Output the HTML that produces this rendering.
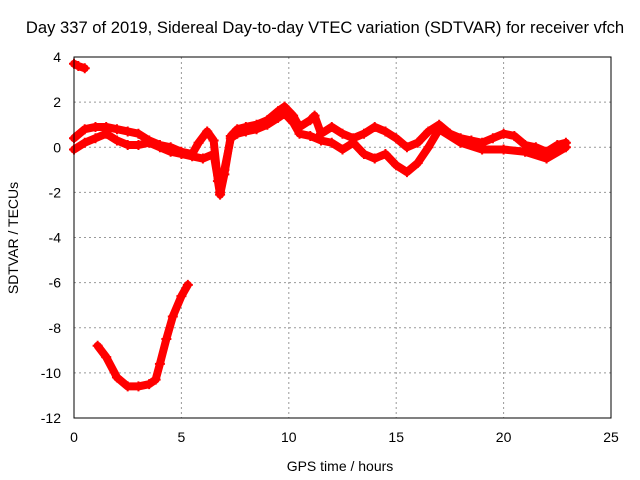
<!DOCTYPE html>
<html><head><meta charset="utf-8"><style>
body{margin:0;background:#fff}
svg{display:block;font-family:"Liberation Sans",sans-serif}
</style></head><body>
<svg id="c" width="640" height="480">
<text x="325" y="33" font-size="16.6" text-anchor="middle">Day 337 of 2019, Sidereal Day-to-day VTEC variation (SDTVAR) for receiver vfch</text>
<text x="340" y="471" font-size="14" text-anchor="middle">GPS time / hours</text>
<text x="18" y="238" font-size="14" text-anchor="middle" transform="rotate(-90 18 238)">SDTVAR / TECUs</text>
<g id="grid"></g><g id="marks"></g>
<rect x="74" y="57" width="537" height="361" fill="none" stroke="#000"/>
</svg>
<script>
const xTicks=[0,5,10,15,20,25];
const yTicks=[4,2,0,-2,-4,-6,-8,-10,-12];
const upperT=[0,0.5,1,1.5,2,2.5,3,3.5,4,4.5,5,5.5,5.8,6.2,6.5,6.7,6.8,7.0,7.3,7.6,8,8.5,9,9.5,9.8,10.2,10.5,11,11.2,11.5,12,12.5,13,13.5,14,14.5,15,15.5,16,16.5,17,17.5,18,18.5,19,19.5,20,20.5,21,21.5,22,22.5,22.9];
const upperV=[0.4,0.8,0.9,0.9,0.8,0.7,0.6,0.3,0.1,0,-0.2,-0.3,0.2,0.7,0.3,-1.5,-2.1,-1.2,0.5,0.8,0.9,1.0,1.2,1.6,1.8,1.4,0.9,1.2,1.4,0.6,0.9,0.6,0.4,0.6,0.9,0.7,0.4,0,0.2,0.7,1.0,0.6,0.4,0.3,0.2,0.4,0.6,0.5,0.1,0,-0.2,0.1,0.2];
const lowerT=[0,0.5,1,1.5,2,2.5,3,3.5,4,4.5,5,5.5,6,6.5,6.8,7.0,7.3,7.6,8,8.5,9,9.5,9.8,10.2,10.5,11,11.5,12,12.5,13,13.5,14,14.5,15,15.5,16,16.5,17,18,19,20,21,22,22.9];
const lowerV=[-0.1,0.2,0.4,0.6,0.3,0.1,0.1,0.2,0,-0.2,-0.3,-0.4,-0.5,-0.3,-2.0,-1.0,0.4,0.6,0.7,0.8,1.0,1.3,1.5,1.1,0.6,0.5,0.3,0.2,-0.1,0.2,-0.3,-0.5,-0.3,-0.8,-1.1,-0.7,0,0.8,0.2,-0.1,-0.1,-0.2,-0.5,0.0];
const arcT=[1.1,1.5,2,2.5,3,3.5,3.8,4,4.3,4.6,5,5.3];
const arcV=[-8.8,-9.3,-10.2,-10.6,-10.6,-10.5,-10.3,-9.6,-8.5,-7.5,-6.6,-6.1];
const topT=[0,0.2,0.5];
const topV=[3.7,3.6,3.5];
const X=t=>74+t*(537/25), Y=v=>57+(4-v)*(361/16);
const NS='http://www.w3.org/2000/svg';
const g=document.getElementById('grid'), m=document.getElementById('marks');
function mk(tag,a,p){const e=document.createElementNS(NS,tag);for(const k in a)e.setAttribute(k,a[k]);p.appendChild(e);return e;}
xTicks.forEach(t=>{const x=X(t);
 if(t>0&&t<25){const l=mk('line',{x1:x,x2:x,y1:57,y2:418,stroke:'#999','stroke-dasharray':'2,3'},g);
 
 }
 const tl=mk('text',{x:x,y:442,'font-size':14,'text-anchor':'middle'},g);tl.textContent=t;
 
 
});
yTicks.forEach(v=>{const y=Y(v);
 if(v<4&&v>-12){const l=mk('line',{x1:74,x2:611,y1:y,y2:y,stroke:'#999','stroke-dasharray':'2,3'},g);
 
 }
 const tl=mk('text',{x:61,y:y+5,'font-size':14,'text-anchor':'end'},g);tl.textContent=v;
 
 
});
function series(T,V,name){
 const pts=T.map((t,i)=>X(t)+','+Y(V[i])).join(' ');
 const pl=mk('polyline',{points:pts,fill:'none',stroke:'#f00','stroke-width':8,'stroke-linejoin':'round','stroke-linecap':'round'},m);
 
 
 T.forEach((t,i)=>{const x=X(t),y=Y(V[i]);
  const p=mk('path',{d:`M${x-5},${y}h10M${x},${y-5}v10`,stroke:'#f00','stroke-width':2},m);
  
  
 });
}
series(upperT,upperV,'upper-band-series');
series(lowerT,lowerV,'lower-band-series');
series(arcT,arcV,'low-arc-series');
series(topT,topV,'top-segment-series');
</script>
</body></html>
